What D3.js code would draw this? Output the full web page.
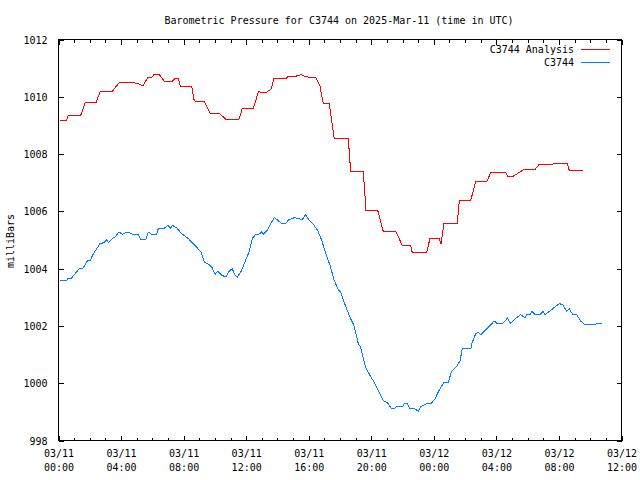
<!DOCTYPE html>
<html>
<head>
<meta charset="utf-8">
<script src="https://cdn.jsdelivr.net/npm/d3@7"></script>
<style>
  html, body { margin: 0; padding: 0; background: #fff; }
  svg { display: block; }
  text { font-family: "DejaVu Sans Mono", "Liberation Mono", monospace; font-size: 10px; fill: #000; }
</style>
</head>
<body>
<svg id="chart" width="640" height="480"></svg>
<script>
// ---- data (hours since 2025-03-11 00:00 UTC, pressure in mb) ----
const analysisHours = [0.08,0.52,0.63,1.42,1.71,2.40,2.67,3.44,3.89,4.64,5.06,5.27,5.42,5.70,5.96,6.09,6.43,6.76,7.28,7.45,7.66,7.79,8.52,8.68,8.90,9.30,9.73,10.33,10.47,10.71,11.54,11.75,12.46,12.78,13.27,13.59,13.78,14.55,14.69,15.12,15.51,15.76,16.04,16.45,16.72,16.93,17.31,17.63,18.53,18.68,19.49,19.66,20.41,20.77,21.58,21.98,22.52,22.62,23.54,23.75,24.33,24.46,24.65,25.50,25.63,26.36,26.68,27.38,27.65,28.59,28.72,29.08,29.76,30.47,30.74,31.60,31.64,32.53,32.66,33.55];
const analysisValues = [1009.17,1009.17,1009.35,1009.35,1009.80,1009.80,1010.19,1010.19,1010.50,1010.50,1010.47,1010.41,1010.41,1010.66,1010.66,1010.78,1010.78,1010.55,1010.55,1010.64,1010.64,1010.37,1010.37,1009.86,1009.83,1009.84,1009.40,1009.40,1009.33,1009.21,1009.21,1009.59,1009.59,1010.17,1010.15,1010.26,1010.64,1010.64,1010.71,1010.71,1010.77,1010.71,1010.68,1010.68,1010.37,1009.77,1009.77,1008.55,1008.55,1007.40,1007.40,1006.04,1006.04,1005.29,1005.29,1004.81,1004.81,1004.56,1004.56,1005.05,1005.05,1004.87,1005.59,1005.59,1006.39,1006.39,1007.04,1007.04,1007.36,1007.36,1007.23,1007.23,1007.46,1007.46,1007.64,1007.64,1007.67,1007.67,1007.43,1007.43];

const stationHours = [0.10,0.52,0.63,0.84,1.01,1.33,1.52,1.65,1.84,2.01,2.23,2.65,2.91,3.08,3.18,3.44,3.61,3.87,4.10,4.40,4.74,5.10,5.26,5.59,5.74,5.96,6.28,6.38,6.75,6.98,7.17,7.30,7.56,7.88,8.30,8.73,9.11,9.32,9.62,9.80,10.01,10.18,10.43,10.71,10.86,11.11,11.29,11.43,11.71,11.92,12.18,12.39,12.61,12.82,12.99,13.09,13.31,13.59,13.80,14.02,14.23,14.53,14.74,15.08,15.38,15.59,15.81,16.02,16.29,16.57,16.83,17.10,17.36,17.63,17.89,18.04,18.38,18.68,18.89,19.17,19.32,19.64,19.92,20.19,20.49,20.77,21.05,21.26,21.52,21.62,22.01,22.11,22.30,22.47,22.79,23.01,23.18,23.50,23.80,24.07,24.35,24.65,24.92,25.14,25.42,25.67,25.82,26.36,26.46,26.68,26.84,27.00,27.27,27.86,28.06,28.40,28.70,28.91,29.19,29.55,29.83,29.94,30.15,30.26,30.47,30.79,31.00,31.11,31.53,31.79,32.02,32.24,32.49,32.66,32.88,33.13,33.39,33.66,34.24,34.41,34.73];
const stationValues = [1003.58,1003.58,1003.67,1003.67,1003.79,1004.00,1004.00,1004.08,1004.27,1004.27,1004.52,1004.87,1004.91,1005.01,1004.91,1005.05,1005.10,1005.28,1005.20,1005.28,1005.20,1005.20,1005.02,1005.02,1005.28,1005.20,1005.20,1005.40,1005.40,1005.51,1005.42,1005.51,1005.42,1005.22,1005.05,1004.81,1004.58,1004.23,1004.14,1004.06,1003.80,1003.91,1003.77,1003.71,1003.88,1004.00,1003.77,1003.69,1003.94,1004.23,1004.58,1005.05,1005.20,1005.20,1005.28,1005.20,1005.31,1005.59,1005.78,1005.69,1005.59,1005.59,1005.71,1005.78,1005.75,1005.71,1005.89,1005.69,1005.55,1005.34,1004.99,1004.52,1004.12,1003.59,1003.27,1003.18,1002.66,1002.25,1002.02,1001.38,1001.26,1000.56,1000.27,1000.03,999.69,999.40,999.31,999.13,999.13,999.19,999.19,999.28,999.28,999.10,999.10,999.02,999.19,999.28,999.28,999.45,999.77,1000.03,1000.03,1000.42,1000.56,1000.77,1001.20,1001.20,1001.43,1001.73,1001.78,1001.69,1001.84,1002.17,1002.08,1002.08,1002.27,1002.08,1002.25,1002.39,1002.29,1002.39,1002.39,1002.51,1002.40,1002.40,1002.51,1002.39,1002.57,1002.68,1002.78,1002.74,1002.52,1002.60,1002.40,1002.40,1002.17,1002.04,1002.04,1002.08,1002.10];

const seriesNames = ["C3744 Analysis", "C3744"];
const seriesColors = ["#ff0000", "#0080ff"];
const yTickValues = [998, 1000, 1002, 1004, 1006, 1008, 1010, 1012];
const xTickHours = [0, 4, 8, 12, 16, 20, 24, 28, 32, 36];
const titleText = "Barometric Pressure for C3744 on 2025-Mar-11 (time in UTC)";
const yLabelText = "milliBars";

// ---- setup ----
const t0 = Date.UTC(2025, 2, 11, 0, 0);
const toDate = h => new Date(t0 + h * 3600e3);

const plotL = 58.5, plotR = 621.5, plotT = 39.5, plotB = 440.5;
const svg = d3.select("#chart");

const x = d3.scaleUtc().domain([toDate(0), toDate(36)]).range([plotL, plotR]);
const y = d3.scaleLinear().domain([998, 1012]).range([plotB, plotT]);

const fmtDate = d3.utcFormat("%m/%d");
const fmtTime = d3.utcFormat("%H:%M");

const majorDates = xTickHours.map(toDate);
const minorDates = d3.range(0, 37).filter(h => h % 4 !== 0).map(toDate);

// minor ticks bottom/top
svg.append("g").attr("transform", `translate(0,${plotB})`)
  .call(d3.axisBottom(x).tickValues(minorDates).tickSizeInner(-3).tickSizeOuter(0).tickFormat(""))
  .call(g => g.select(".domain").remove());
svg.append("g").attr("transform", `translate(0,${plotT})`)
  .call(d3.axisTop(x).tickValues(minorDates).tickSizeInner(-3).tickSizeOuter(0).tickFormat(""))
  .call(g => g.select(".domain").remove());

// major x ticks
const xBottom = svg.append("g").attr("transform", `translate(0,${plotB})`)
  .call(d3.axisBottom(x).tickValues(majorDates).tickSizeInner(-5).tickSizeOuter(0).tickFormat(""))
  .call(g => g.select(".domain").remove());
svg.append("g").attr("transform", `translate(0,${plotT})`)
  .call(d3.axisTop(x).tickValues(majorDates).tickSizeInner(-5).tickSizeOuter(0).tickFormat(""))
  .call(g => g.select(".domain").remove());

// two-line x labels
xBottom.selectAll(".tick").each(function(d) {
  const t = d3.select(this).append("text").attr("text-anchor", "middle").attr("fill", "#000");
  t.append("tspan").attr("x", 0).attr("y", 16.5).text(fmtDate(d));
  t.append("tspan").attr("x", 0).attr("y", 30).text(fmtTime(d));
});

// y ticks
svg.append("g").attr("transform", `translate(${plotL},0)`)
  .call(d3.axisLeft(y).tickValues(yTickValues).tickSizeInner(-5).tickSizeOuter(0).tickPadding(11).tickFormat(d3.format("d")))
  .call(g => g.select(".domain").remove())
  .call(g => g.selectAll("text").attr("fill", "#000").attr("dy", "0.36em"));
svg.append("g").attr("transform", `translate(${plotR},0)`)
  .call(d3.axisRight(y).tickValues(yTickValues).tickSizeInner(-5).tickSizeOuter(0).tickFormat(""))
  .call(g => g.select(".domain").remove());

svg.selectAll(".tick line").attr("stroke", "#000").attr("shape-rendering", "crispEdges");
svg.selectAll("g").attr("font-family", null).attr("font-size", null);

// frame
svg.append("rect")
  .attr("x", plotL).attr("y", plotT).attr("width", plotR - plotL).attr("height", plotB - plotT)
  .attr("fill", "none").attr("stroke", "#000").attr("shape-rendering", "crispEdges");

// title and y label
svg.append("text").attr("x", 339).attr("y", 23.5).attr("text-anchor", "middle").text(titleText);
svg.append("text").attr("transform", "translate(14,241) rotate(-90)").attr("text-anchor", "middle").text(yLabelText);

// lines
const line = d3.line().x(d => x(toDate(d[0]))).y(d => y(d[1]));
const seriesData = [
  d3.zip(analysisHours, analysisValues),
  d3.zip(stationHours, stationValues)
];
seriesData.forEach((data, i) => {
  svg.append("path").datum(data)
    .attr("d", line)
    .attr("fill", "none")
    .attr("stroke", seriesColors[i])
    .attr("stroke-width", 1)
    .attr("shape-rendering", "crispEdges")
    .attr("stroke-linejoin", "miter");
});

// legend
const legendY = [49.5, 62.5];
seriesNames.forEach((name, i) => {
  svg.append("text").attr("x", 574).attr("y", legendY[i] + 3.8).attr("text-anchor", "end").text(name);
  svg.append("line").attr("x1", 581).attr("x2", 610).attr("y1", legendY[i]).attr("y2", legendY[i])
    .attr("stroke", seriesColors[i]).attr("stroke-width", 1).attr("shape-rendering", "crispEdges");
});
</script>
</body>
</html>
